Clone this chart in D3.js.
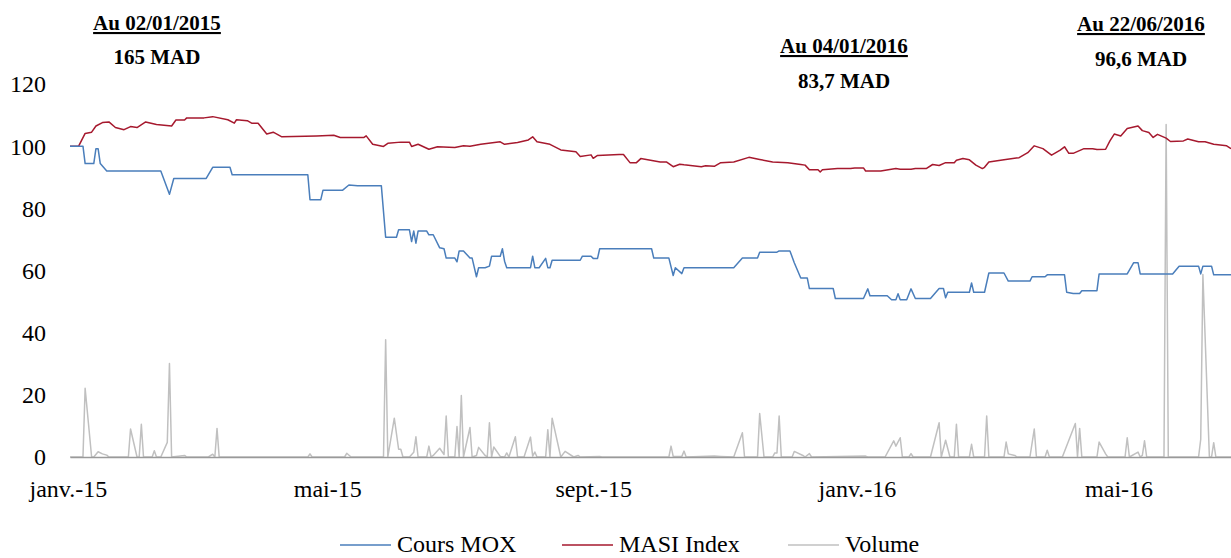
<!DOCTYPE html>
<html>
<head>
<meta charset="utf-8">
<script src="https://cdnjs.cloudflare.com/ajax/libs/d3/7.8.5/d3.min.js"></script>
<style>
    body { margin: 0; background: #fff; }
    svg text { font-family: "Liberation Serif", "DejaVu Serif", serif; fill: #000; }
</style>
</head>
<body>
<script>
// Series: [date, value] (base 100 for the prices)
var coursMox = [
    ["2015-01-02", 100], ["2015-01-08", 100], ["2015-01-09", 94.4],
    ["2015-01-13", 94.4], ["2015-01-14", 99.2], ["2015-01-15", 99.2],
    ["2015-01-16", 94.4], ["2015-01-19", 92], ["2015-02-13", 92],
    ["2015-02-17", 84.5], ["2015-02-19", 89.6], ["2015-03-06", 89.6],
    ["2015-03-09", 93.2], ["2015-03-17", 93.2], ["2015-03-18", 90.8],
    ["2015-04-22", 90.8], ["2015-04-23", 82.8], ["2015-04-28", 82.8],
    ["2015-04-29", 85.8], ["2015-05-08", 85.8], ["2015-05-11", 87.5],
    ["2015-05-15", 87.3], ["2015-05-26", 87.3], ["2015-05-28", 70.7],
    ["2015-06-02", 70.7], ["2015-06-03", 73.1], ["2015-06-08", 73.1],
    ["2015-06-09", 69.3], ["2015-06-10", 72.7], ["2015-06-11", 68.8],
    ["2015-06-12", 72.7], ["2015-06-16", 72.7], ["2015-06-17", 71.5],
    ["2015-06-19", 71.5], ["2015-06-22", 67.3], ["2015-06-24", 67],
    ["2015-06-25", 64], ["2015-06-29", 64], ["2015-06-30", 62.8],
    ["2015-07-01", 66.3], ["2015-07-03", 66.3], ["2015-07-06", 64],
    ["2015-07-07", 64], ["2015-07-09", 58], ["2015-07-10", 60.9],
    ["2015-07-13", 60.9], ["2015-07-15", 61.4], ["2015-07-16", 64.6],
    ["2015-07-20", 64.6], ["2015-07-21", 67], ["2015-07-22", 63],
    ["2015-07-23", 60.9], ["2015-08-03", 60.9], ["2015-08-04", 64.6],
    ["2015-08-05", 60.9], ["2015-08-07", 60.9], ["2015-08-10", 63.9],
    ["2015-08-11", 60.9], ["2015-08-12", 60.9], ["2015-08-13", 63.3],
    ["2015-08-26", 63.3], ["2015-08-27", 64.6], ["2015-08-31", 64.6],
    ["2015-09-01", 63.9], ["2015-09-03", 63.9], ["2015-09-04", 67],
    ["2015-09-28", 67], ["2015-09-29", 64], ["2015-10-06", 64],
    ["2015-10-08", 58.4], ["2015-10-09", 60.9], ["2015-10-12", 59],
    ["2015-10-13", 60.9], ["2015-11-05", 60.9], ["2015-11-09", 64],
    ["2015-11-16", 64], ["2015-11-17", 65.9], ["2015-11-25", 65.9],
    ["2015-11-26", 66.3], ["2015-12-01", 66.3], ["2015-12-03", 62.5],
    ["2015-12-06", 57.6], ["2015-12-09", 57.6], ["2015-12-10", 54.2],
    ["2015-12-21", 54.2], ["2015-12-22", 51], ["2016-01-04", 51],
    ["2016-01-06", 54.1], ["2016-01-07", 51.9], ["2016-01-15", 51.9],
    ["2016-01-17", 50.6], ["2016-01-19", 50.6], ["2016-01-20", 52.5],
    ["2016-01-21", 50.6], ["2016-01-24", 50.6], ["2016-01-26", 54.1],
    ["2016-01-28", 51], ["2016-02-04", 51], ["2016-02-08", 54.2],
    ["2016-02-10", 54.2], ["2016-02-11", 51.2], ["2016-02-12", 53],
    ["2016-02-22", 53], ["2016-02-23", 56], ["2016-02-24", 53],
    ["2016-02-29", 53], ["2016-03-02", 59.2], ["2016-03-09", 59.2],
    ["2016-03-11", 56.6], ["2016-03-21", 56.6], ["2016-03-22", 58],
    ["2016-03-28", 58], ["2016-03-29", 58.6], ["2016-04-06", 58.6],
    ["2016-04-07", 53], ["2016-04-10", 52.6], ["2016-04-13", 52.6],
    ["2016-04-14", 53.5], ["2016-04-21", 53.5], ["2016-04-22", 58.9],
    ["2016-05-05", 58.9], ["2016-05-08", 62.5], ["2016-05-10", 62.5],
    ["2016-05-11", 58.9], ["2016-05-26", 58.9], ["2016-05-29", 61.4],
    ["2016-06-07", 61.4], ["2016-06-08", 58.9], ["2016-06-09", 61.4],
    ["2016-06-13", 61.4], ["2016-06-14", 58.6], ["2016-06-22", 58.6]
];

var masiIndex = [
    ["2015-01-02", 100], ["2015-01-06", 100], ["2015-01-09", 104.1],
    ["2015-01-12", 104.5], ["2015-01-14", 106.5], ["2015-01-17", 107.6],
    ["2015-01-20", 107.8], ["2015-01-23", 106], ["2015-01-27", 105.3],
    ["2015-01-30", 106.3], ["2015-02-02", 106], ["2015-02-06", 107.8],
    ["2015-02-11", 107], ["2015-02-18", 106.5], ["2015-02-20", 108.4],
    ["2015-02-24", 108.4], ["2015-02-25", 109.1], ["2015-03-05", 109.1],
    ["2015-03-09", 109.5], ["2015-03-16", 108.5], ["2015-03-19", 107.4],
    ["2015-03-20", 108.5], ["2015-03-25", 108.2], ["2015-03-27", 107.4],
    ["2015-03-30", 107.4], ["2015-04-03", 103.9], ["2015-04-06", 104.5],
    ["2015-04-10", 103], ["2015-04-26", 103.3], ["2015-05-04", 103.5],
    ["2015-05-07", 102.8], ["2015-05-18", 102.8], ["2015-05-19", 103.3],
    ["2015-05-22", 100.6], ["2015-05-27", 99.9], ["2015-05-29", 100.9],
    ["2015-06-04", 101.3], ["2015-06-08", 101.3], ["2015-06-09", 99.9],
    ["2015-06-12", 100.6], ["2015-06-17", 99], ["2015-06-21", 99.8],
    ["2015-06-29", 99.6], ["2015-07-03", 100.1], ["2015-07-06", 100],
    ["2015-07-11", 100.6], ["2015-07-20", 101.4], ["2015-07-22", 100.6],
    ["2015-07-28", 101.2], ["2015-08-02", 102], ["2015-08-04", 103],
    ["2015-08-06", 101.4], ["2015-08-12", 100.6], ["2015-08-17", 98.8],
    ["2015-08-24", 98.2], ["2015-08-26", 96.7], ["2015-08-31", 97.2],
    ["2015-09-01", 96.1], ["2015-09-03", 97], ["2015-09-13", 97.3],
    ["2015-09-15", 97.3], ["2015-09-18", 94.7], ["2015-09-21", 94.7],
    ["2015-09-23", 96], ["2015-10-02", 94.9], ["2015-10-05", 94.9],
    ["2015-10-08", 93.4], ["2015-10-11", 94.2], ["2015-10-13", 94],
    ["2015-10-21", 93.4], ["2015-10-23", 93.7], ["2015-10-27", 93.5],
    ["2015-10-30", 94.7], ["2015-11-05", 94.9], ["2015-11-12", 96.4],
    ["2015-11-17", 95.7], ["2015-11-23", 94.9], ["2015-11-30", 94.7],
    ["2015-12-06", 94.1], ["2015-12-08", 93.9], ["2015-12-10", 92.4],
    ["2015-12-14", 92.4], ["2015-12-15", 91.7], ["2015-12-16", 92.4],
    ["2015-12-23", 92.8], ["2015-12-29", 92.8], ["2015-12-31", 93],
    ["2016-01-04", 93], ["2016-01-05", 92], ["2016-01-12", 92],
    ["2016-01-19", 92.8], ["2016-01-21", 92.6], ["2016-01-26", 92.6],
    ["2016-01-28", 92.8], ["2016-02-02", 92.8], ["2016-02-05", 94.1],
    ["2016-02-08", 93.8], ["2016-02-11", 94.7], ["2016-02-15", 94.7],
    ["2016-02-16", 95.5], ["2016-02-19", 96], ["2016-02-22", 95.6],
    ["2016-02-25", 93.9], ["2016-02-28", 92.8], ["2016-02-29", 93.2],
    ["2016-03-02", 94.9], ["2016-03-09", 95.6], ["2016-03-16", 96.3],
    ["2016-03-20", 97.9], ["2016-03-23", 100.1], ["2016-03-27", 99.2],
    ["2016-03-31", 97.1], ["2016-04-04", 98.7], ["2016-04-06", 99.8],
    ["2016-04-08", 97.7], ["2016-04-10", 97.7], ["2016-04-15", 99.2],
    ["2016-04-19", 99.2], ["2016-04-21", 98.9], ["2016-04-25", 99],
    ["2016-04-27", 101.7], ["2016-04-29", 103.9], ["2016-05-02", 103.3],
    ["2016-05-05", 105.7], ["2016-05-10", 106.5], ["2016-05-12", 105],
    ["2016-05-15", 104.4], ["2016-05-17", 102.8], ["2016-05-19", 103.8],
    ["2016-05-23", 102.6], ["2016-05-25", 101.5], ["2016-05-31", 101.7],
    ["2016-06-02", 102.3], ["2016-06-07", 101.4], ["2016-06-10", 101.4],
    ["2016-06-14", 100.6], ["2016-06-20", 100.1], ["2016-06-22", 99.2]
];

var volume = [
    ["2015-01-02", 0], ["2015-01-08", 0], ["2015-01-09", 22.1],
    ["2015-01-12", 0], ["2015-01-13", 0], ["2015-01-15", 1.7],
    ["2015-01-17", 1], ["2015-01-19", 0.6], ["2015-01-20", 0],
    ["2015-01-29", 0], ["2015-01-30", 9], ["2015-02-02", 0],
    ["2015-02-03", 0], ["2015-02-04", 10.5], ["2015-02-05", 0],
    ["2015-02-09", 0], ["2015-02-10", 2], ["2015-02-11", 0],
    ["2015-02-13", 0], ["2015-02-16", 4.7], ["2015-02-17", 30.1],
    ["2015-02-18", 0], ["2015-02-24", 0.5], ["2015-02-25", 0],
    ["2015-03-07", 0], ["2015-03-09", 0.9], ["2015-03-10", 0],
    ["2015-03-11", 9.2], ["2015-03-12", 0], ["2015-04-22", 0],
    ["2015-04-23", 1], ["2015-04-24", 0], ["2015-05-09", 0],
    ["2015-05-10", 1.2], ["2015-05-12", 0], ["2015-05-27", 0],
    ["2015-05-28", 37.7], ["2015-05-29", 0], ["2015-06-01", 12.5],
    ["2015-06-03", 2.5], ["2015-06-04", 2.5], ["2015-06-05", 0],
    ["2015-06-08", 0], ["2015-06-10", 1.5], ["2015-06-11", 6.5],
    ["2015-06-12", 0], ["2015-06-16", 0], ["2015-06-17", 3.5],
    ["2015-06-18", 0], ["2015-06-19", 0.5], ["2015-06-22", 2.8],
    ["2015-06-24", 0.8], ["2015-06-25", 13.2], ["2015-06-26", 0],
    ["2015-06-29", 0], ["2015-06-30", 9.8], ["2015-07-01", 0],
    ["2015-07-02", 19.8], ["2015-07-03", 0], ["2015-07-06", 9.5],
    ["2015-07-07", 0], ["2015-07-09", 0.5], ["2015-07-10", 3.1],
    ["2015-07-13", 0.5], ["2015-07-14", 0], ["2015-07-15", 11],
    ["2015-07-16", 0], ["2015-07-17", 3.2], ["2015-07-20", 0.2],
    ["2015-07-22", 0], ["2015-07-23", 1.3], ["2015-07-24", 0],
    ["2015-07-27", 6.5], ["2015-07-28", 0], ["2015-07-31", 0],
    ["2015-08-03", 6.4], ["2015-08-04", 0.3], ["2015-08-05", 1.6],
    ["2015-08-06", 0], ["2015-08-10", 0], ["2015-08-11", 8.8],
    ["2015-08-12", 0], ["2015-08-13", 12.5], ["2015-08-17", 0],
    ["2015-08-19", 1.8], ["2015-08-23", 0], ["2015-08-25", 0.5],
    ["2015-08-26", 0], ["2015-09-04", 0.2], ["2015-09-05", 0],
    ["2015-10-06", 0], ["2015-10-07", 3.5], ["2015-10-08", 0.2],
    ["2015-10-12", 0.2], ["2015-10-13", 1.9], ["2015-10-14", 0],
    ["2015-10-27", 0.3], ["2015-10-30", 0.2], ["2015-11-05", 0],
    ["2015-11-09", 7.8], ["2015-11-10", 0], ["2015-11-16", 0],
    ["2015-11-17", 14], ["2015-11-19", 0], ["2015-11-23", 0],
    ["2015-11-24", 1.3], ["2015-11-25", 1.3], ["2015-11-26", 13.2],
    ["2015-11-27", 0], ["2015-12-02", 0], ["2015-12-03", 1.8],
    ["2015-12-07", 0.5], ["2015-12-08", 0], ["2015-12-10", 1.1],
    ["2015-12-11", 0], ["2016-01-05", 0.3], ["2016-01-06", 0],
    ["2016-01-14", 0], ["2016-01-18", 5.2], ["2016-01-19", 3.5],
    ["2016-01-21", 6.2], ["2016-01-22", 0], ["2016-01-25", 0],
    ["2016-01-26", 1.1], ["2016-01-27", 0], ["2016-02-04", 0],
    ["2016-02-08", 11], ["2016-02-09", 0], ["2016-02-11", 5.4],
    ["2016-02-13", 0], ["2016-02-15", 0], ["2016-02-16", 10.5],
    ["2016-02-17", 0], ["2016-02-22", 0], ["2016-02-23", 4.1],
    ["2016-02-24", 0], ["2016-02-29", 0], ["2016-03-01", 13.2],
    ["2016-03-02", 0], ["2016-03-09", 0], ["2016-03-10", 4.8],
    ["2016-03-11", 1], ["2016-03-14", 0.5], ["2016-03-15", 0],
    ["2016-03-21", 0], ["2016-03-23", 9], ["2016-03-24", 0],
    ["2016-03-28", 0], ["2016-03-29", 2.2], ["2016-03-30", 0],
    ["2016-04-05", 0], ["2016-04-11", 10.8], ["2016-04-12", 0],
    ["2016-04-13", 9.2], ["2016-04-14", 0], ["2016-04-21", 0],
    ["2016-04-22", 4.8], ["2016-04-25", 1], ["2016-04-26", 0],
    ["2016-05-04", 0], ["2016-05-05", 6.2], ["2016-05-06", 0],
    ["2016-05-10", 1.6], ["2016-05-11", 0], ["2016-05-12", 0.5],
    ["2016-05-13", 5.2], ["2016-05-14", 0], ["2016-05-22", 0],
    ["2016-05-23", 107], ["2016-05-24", 0], ["2016-06-07", 0],
    ["2016-06-08", 5.7], ["2016-06-09", 58.7], ["2016-06-12", 0],
    ["2016-06-13", 0], ["2016-06-14", 4.6], ["2016-06-15", 0],
    ["2016-06-22", 0]
];

var seriesNames = ["Cours MOX", "MASI Index", "Volume"];
var seriesColors = ["#4a7ebb", "#a6192e", "#c0c0c0"];

var tickDates = ["2015-01-01", "2015-05-01", "2015-09-01", "2016-01-01",
    "2016-05-01"];
var tickLabels = ["janv.-15", "mai-15", "sept.-15", "janv.-16", "mai-16"];
var yTicks = [0, 20, 40, 60, 80, 100, 120];

var noteDates = ["Au 02/01/2015", "Au 04/01/2016", "Au 22/06/2016"];
var notePrices = ["165 MAD", "83,7 MAD", "96,6 MAD"];

// ---------------------------------------------------------------------------
var W = 1231, H = 558;
var parse = d3.timeParse("%Y-%m-%d");

var svg = d3.select("body").append("svg")
    .attr("width", W)
    .attr("height", H);

var xScale = d3.scaleTime()
    .domain([parse("2015-01-02"), parse("2016-06-22")])
    .range([70, 1231]);

var yScale = d3.scaleLinear()
    .domain([0, 120])
    .range([457, 84]);

var line = d3.line()
    .x(function(d) { return xScale(parse(d[0])); })
    .y(function(d) { return yScale(d[1]); });

// Y axis: labels only
var yAxis = d3.axisLeft(yScale).tickValues(yTicks).tickSize(0);
svg.append("g")
    .attr("transform", "translate(70,0)")
    .call(yAxis)
    .call(function(g) { g.select(".domain").remove(); })
    .selectAll("text")
    .attr("x", -24)
    .attr("dy", "0.33em")
    .style("font-size", "24px")
    .style("font-family", "Liberation Serif");

// series, volume drawn first so the prices sit over it
var allSeries = [coursMox, masiIndex, volume];
[2, 1, 0].forEach(function(i) {
    svg.append("path")
        .datum(allSeries[i])
        .attr("fill", "none")
        .attr("stroke", seriesColors[i])
        .attr("stroke-width", 1.5)
        .attr("stroke-linejoin", "round")
        .attr("d", line);
});

// X axis
var xAxis = d3.axisBottom(xScale)
    .tickValues(tickDates.map(parse))
    .tickSize(0)
    .tickFormat(function(d, i) { return tickLabels[i]; });

svg.append("g")
    .attr("transform", "translate(0,457)")
    .call(xAxis)
    .call(function(g) {
        g.select(".domain").attr("stroke", "#9a9a9a").attr("stroke-width", 1.5);
    })
    .selectAll("text")
    .attr("y", 40)
    .attr("dy", 0)
    .style("font-size", "24px")
    .style("font-family", "Liberation Serif");

// annotations
var notePos = [[157, 30, 64], [844, 53, 88], [1141, 31, 66]];
notePos.forEach(function(p, i) {
    svg.append("text")
        .attr("x", p[0]).attr("y", p[1])
        .attr("text-anchor", "middle")
        .style("font-size", "21px")
        .style("font-weight", "bold")
        .style("text-decoration", "underline")
        .text(noteDates[i]);
    svg.append("text")
        .attr("x", p[0]).attr("y", p[2])
        .attr("text-anchor", "middle")
        .style("font-size", "21px")
        .style("font-weight", "bold")
        .text(notePrices[i]);
});

// legend
var legendX = [340, 562, 788];
var legend = svg.selectAll(".legend")
    .data(seriesNames)
    .enter()
    .append("g")
    .attr("class", "legend")
    .attr("transform", function(d, i) {
        return "translate(" + legendX[i] + ",545)";
    });

legend.append("line")
    .attr("x1", 0).attr("x2", 51)
    .attr("stroke", function(d, i) { return seriesColors[i]; })
    .attr("stroke-width", 1.5);

legend.append("text")
    .attr("x", 57)
    .attr("y", 7)
    .style("font-size", "24px")
    .text(function(d) { return d; });
</script>
</body>
</html>
